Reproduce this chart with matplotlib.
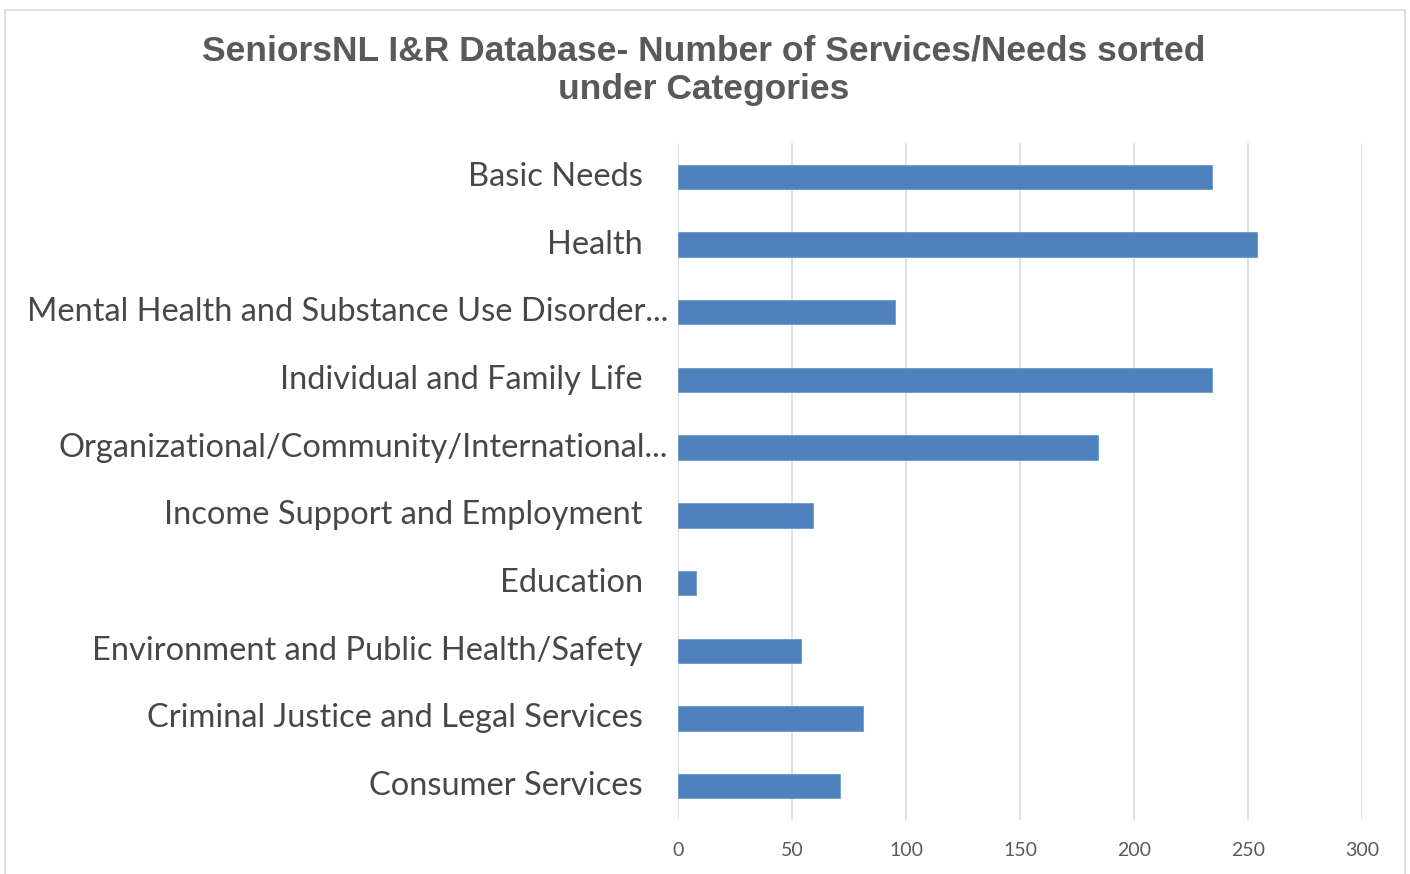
import matplotlib.pyplot as plt
from matplotlib.patches import Rectangle

# data
categories = ['Basic Needs', 'Health', 'Mental Health and Substance Use Disorder...',
              'Individual and Family Life', 'Organizational/Community/International...',
              'Income Support and Employment', 'Education',
              'Environment and Public Health/Safety', 'Criminal Justice and Legal Services',
              'Consumer Services']
counts = [234, 254, 95, 234, 184, 59, 8, 54, 81, 71]
xticks = [0, 50, 100, 150, 200, 250, 300]

fig = plt.figure(figsize=(14.1, 8.74), dpi=100)
fig.patches.append(Rectangle((5/1410, -0.01), 1400/1410, 1 - 10/874 + 0.01,
                             transform=fig.transFigure, fill=False,
                             edgecolor='#d9d9d9', linewidth=1.2))

ax = fig.add_axes([678/1410, 1 - 820/874, (1362-678)/1410, (820-143)/874])
y = list(range(len(categories)))
ax.barh(y, counts, height=0.36, color='#4f81bd', edgecolor='#6a98cc', linewidth=0.6, zorder=3)
ax.set_ylim(len(categories) - 0.5, -0.5)
ax.set_xlim(0, 300)
ax.set_xticks(xticks)
ax.grid(axis='x', color='#d9d9d9', linewidth=1.1, zorder=0)
for s in ax.spines.values():
    s.set_visible(False)
ax.tick_params(axis='both', length=0)
ax.tick_params(axis='x', labelsize=14, labelcolor='#595959', pad=16)
for lab in ax.get_xticklabels():
    lab.set_family(['Lato', 'DejaVu Sans'])
ax.set_yticks([])

# category labels, the truncated ones sit closer to the axis (as in Excel)
for i, name in enumerate(categories):
    off = -10 if name.endswith('...') else -35
    ax.annotate(name, xy=(0, i), xycoords=('axes fraction', 'data'),
                xytext=(off, 0), textcoords='offset pixels',
                ha='right', va='center', fontsize=23.5, color='#474747',
                family=['Lato', 'DejaVu Sans'])

fig.text(704/1410, 1 - 70/874,
         'SeniorsNL I&R Database- Number of Services/Needs sorted\nunder Categories',
         ha='center', va='center', fontsize=25.5, fontweight='bold', color='#595959',
         family=['Liberation Sans', 'DejaVu Sans'], linespacing=1.2)

fig.savefig('out.png', dpi=100)
